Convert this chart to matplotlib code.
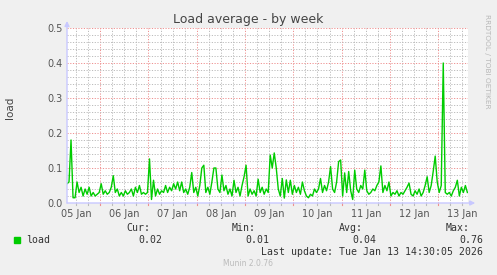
import numpy as np
import matplotlib
matplotlib.use("Agg")
import matplotlib.pyplot as plt

# ---- data (hours since 05 Jan 00:00, one sample per hour) ----
start_hour = 7.5
load = [
    0.055, 0.06, 0.18, 0.015, 0.015, 0.06, 0.03, 0.045, 0.02, 0.04,
    0.025, 0.045, 0.02, 0.03, 0.02, 0.025, 0.03, 0.055, 0.025, 0.035,
    0.025, 0.03, 0.045, 0.078, 0.03, 0.04, 0.02, 0.03, 0.02, 0.035,
    0.025, 0.03, 0.04, 0.02, 0.045, 0.03, 0.05, 0.025, 0.03, 0.025,
    0.03, 0.126, 0.01, 0.065, 0.02, 0.04, 0.025, 0.035, 0.03, 0.05,
    0.03, 0.045, 0.035, 0.055, 0.04, 0.06, 0.035, 0.06, 0.03, 0.04,
    0.025, 0.045, 0.087, 0.03, 0.045, 0.02, 0.05, 0.1, 0.108, 0.03,
    0.045, 0.025, 0.06, 0.1, 0.1, 0.04, 0.03, 0.08, 0.035, 0.05,
    0.025, 0.04, 0.02, 0.065, 0.03, 0.045, 0.02, 0.05, 0.075, 0.108,
    0.02, 0.04, 0.025, 0.035, 0.02, 0.068, 0.03, 0.045, 0.025, 0.04,
    0.03, 0.137, 0.1, 0.143, 0.1, 0.04, 0.02, 0.07, 0.014, 0.066,
    0.03, 0.065, 0.025, 0.05, 0.03, 0.045, 0.025, 0.06, 0.035, 0.02,
    0.015, 0.025, 0.02, 0.04, 0.03, 0.04, 0.07, 0.03, 0.05, 0.035,
    0.06, 0.104, 0.04, 0.03, 0.06, 0.118, 0.123, 0.02, 0.086, 0.03,
    0.09, 0.035, 0.01, 0.094, 0.04, 0.03, 0.05, 0.04, 0.094, 0.035,
    0.025, 0.03, 0.04, 0.035, 0.05, 0.06, 0.106, 0.03, 0.05, 0.035,
    0.06, 0.02, 0.03, 0.025, 0.035, 0.02, 0.03, 0.025, 0.035, 0.045,
    0.057, 0.025, 0.02, 0.035, 0.025, 0.04, 0.02, 0.03, 0.05, 0.075,
    0.03, 0.05, 0.09, 0.134, 0.06, 0.03, 0.05, 0.4, 0.03, 0.025,
    0.03, 0.02, 0.035, 0.045, 0.065, 0.02, 0.045, 0.03, 0.05, 0.03,
]
day_labels = ["05 Jan", "06 Jan", "07 Jan", "08 Jan", "09 Jan",
              "10 Jan", "11 Jan", "12 Jan", "13 Jan"]
y_ticks = [0.0, 0.1, 0.2, 0.3, 0.4, 0.5]
y_ticklabels = ["0.0", "0.1", "0.2", "0.3", "0.4", "0.5"]
stats_names = ["Cur:", "Min:", "Avg:", "Max:"]
stats_values = ["0.02", "0.01", "0.04", "0.76"]
series_name = "load"
title = "Load average - by week"
last_update = "Last update: Tue Jan 13 14:30:05 2026"

hours = start_hour + np.arange(len(load))
days = hours / 24.0

W, H = 497, 275
fig = plt.figure(figsize=(W / 100, H / 100), dpi=100, facecolor="#F0F0F0")
L, R, T, B = 67, 468, 28, 203
ax = fig.add_axes([L / W, 1 - B / H, (R - L) / W, (B - T) / H])
ax.set_facecolor("white")

x0, x1 = 7.5 / 24, 206.8 / 24
ax.set_xlim(x0, x1)
ax.set_ylim(0, 0.5)

# grids
minor_col = "#BBBBBB"
major_col = "#EE9090"
for d in np.arange(0, 9, 0.25):
    if x0 < d < x1:
        is_major = abs(d - round(d)) < 1e-9
        ax.axvline(d, color=major_col if is_major else minor_col, lw=0.7,
                   ls=(0, (1.2, 1.6)), zorder=1)
        ax.plot([d, d], [-0.006, 0.0], color=major_col if is_major else minor_col,
                lw=0.8, clip_on=False, zorder=1)
for v in np.arange(0.02, 0.5001, 0.02):
    is_major = abs(v * 10 - round(v * 10)) < 1e-9
    ax.axhline(v, color=major_col if is_major else minor_col, lw=0.7,
               ls=(0, (1.2, 1.6)), zorder=1)

ax.plot(days, load, color="#00CC00", lw=1.0, zorder=3)

for s in ax.spines.values():
    s.set_visible(False)
ax.set_yticks(y_ticks)
ax.set_yticklabels(y_ticklabels)
ax.set_xticks(np.arange(len(day_labels)) + 0.5)
ax.set_xticklabels(day_labels)
ax.tick_params(axis="both", length=0, labelsize=7, colors="#555555", pad=3)
ax.tick_params(axis="x", pad=4)

# axis arrows
acol = "#C8C8FF"
ax.annotate("", xy=(1.018, 0), xytext=(0, 0), xycoords="axes fraction",
            arrowprops=dict(arrowstyle="-|>", color=acol, lw=1, mutation_scale=7,
                            shrinkA=0, shrinkB=0), zorder=4)
ax.annotate("", xy=(0, 1.04), xytext=(0, 0), xycoords="axes fraction",
            arrowprops=dict(arrowstyle="-|>", color=acol, lw=1, mutation_scale=7,
                            shrinkA=0, shrinkB=0), zorder=4)

# texts
fig.text(248 / W, 1 - 19 / H, title, ha="center", va="center", fontsize=9,
         color="#444444")
fig.text(10 / W, 1 - 108 / H, "load", ha="center", va="center", rotation=90,
         fontsize=7.5, color="#444444")
fig.text(487 / W, 1 - 14 / H, "RRDTOOL / TOBI OETIKER", ha="center", va="top",
         rotation=270, fontsize=5.3, color="#B8B8B8")

mono = "DejaVu Sans Mono"
fig.patches.append(plt.Rectangle((14 / W, 1 - 243 / H), 6 / W, 6 / H,
                                 transform=fig.transFigure, color="#00CC00"))
fig.text(26 / W, 1 - 240 / H, series_name, ha="left", va="center",
         fontsize=7.1, family=mono, color="#333333")
name_right = [150, 256, 363, 470]
val_right = [162, 269, 376, 483]
for n, v, nr, vr in zip(stats_names, stats_values, name_right, val_right):
    fig.text(nr / W, 1 - 228 / H, n, ha="right", va="center", fontsize=7.1,
             family=mono, color="#333333")
    fig.text(vr / W, 1 - 240 / H, v, ha="right", va="center", fontsize=7.1,
             family=mono, color="#333333")
fig.text(483 / W, 1 - 252 / H, last_update, ha="right", va="center",
         fontsize=7.1, family=mono, color="#333333")
fig.text(248 / W, 1 - 264 / H, "Munin 2.0.76", ha="center", va="center",
         fontsize=5.5, color="#BBBBBB")

fig.savefig("out.png", dpi=100, facecolor=fig.get_facecolor())
